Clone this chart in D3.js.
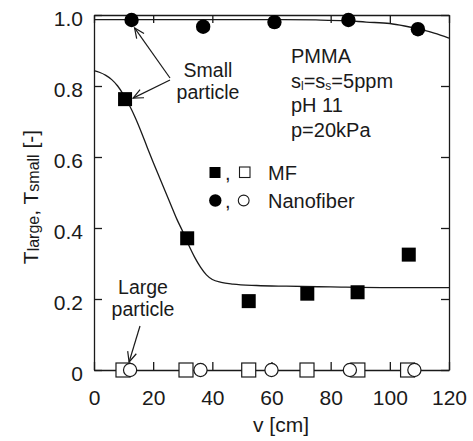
<!DOCTYPE html>
<html>
<head>
<meta charset="utf-8">
<script src="https://cdn.jsdelivr.net/npm/d3@7/dist/d3.min.js"></script>
<style>
  html, body { margin: 0; padding: 0; background: #fff; }
  svg { display: block; font-family: "Liberation Sans", Arial, sans-serif; }
</style>
</head>
<body>
<svg id="chart" width="473" height="441"></svg>
<script>
// Tick values and labels
const xTicks = [0, 20, 40, 60, 80, 100, 120];
const xTickLabels = ["0", "20", "40", "60", "80", "100", "120"];
const yTicks = [0, 0.2, 0.4, 0.6, 0.8, 1.0];
const yTickLabels = ["0", "0.2", "0.4", "0.6", "0.8", "1.0"];

// MF: small-particle (filled) and large-particle (open) transmission
const mfSmallV = [10.5, 31.5, 52.3, 72.1, 89.1, 106.4];
const mfSmallT = [0.763, 0.371, 0.194, 0.215, 0.219, 0.325];
const mfLargeV = [9.8, 31.1, 52.3, 72.0, 89.2, 106.0];
const mfLargeT = [0, 0, 0, 0, 0, 0];

// Nanofiber: small-particle (filled) and large-particle (open) transmission
const nfSmallV = [12.7, 36.9, 61.0, 86.0, 109.5];
const nfSmallT = [0.986, 0.967, 0.980, 0.986, 0.960];
const nfLargeV = [12.2, 36.0, 60.0, 86.5, 108.3];
const nfLargeT = [0, 0, 0, 0, 0];

// Fitted trend curves
const mfCurveV = [0, 2, 4, 6, 8, 10, 12, 14, 16, 18, 20, 22, 24, 26, 28, 30, 32, 34, 36, 38, 40, 43, 47, 55, 65, 80, 100, 120];
const mfCurveT = [0.843, 0.838, 0.830, 0.818, 0.800, 0.775, 0.745, 0.710, 0.670, 0.627, 0.585, 0.545, 0.505, 0.465, 0.425, 0.390, 0.352, 0.318, 0.290, 0.268, 0.255, 0.247, 0.242, 0.238, 0.236, 0.234, 0.232, 0.232];
const nfCurveV = [0, 20, 40, 60, 75, 85, 92, 100, 105, 110, 115, 120];
const nfCurveT = [0.987, 0.987, 0.987, 0.987, 0.986, 0.984, 0.980, 0.976, 0.969, 0.960, 0.949, 0.935];

const svg = d3.select("#chart");
const L = 94, R = 449, T = 15, B = 370;
const x = d3.scaleLinear().domain([0, 120]).range([L, R]);
const y = d3.scaleLinear().domain([0, 1.0]).range([B, T]);
const ink = "#1a1a1a";

// Arrow marker (open V head)
svg.append("defs").append("marker")
  .attr("id", "arrow").attr("viewBox", "0 0 12 12")
  .attr("refX", 11).attr("refY", 6)
  .attr("markerWidth", 12).attr("markerHeight", 12)
  .attr("markerUnits", "userSpaceOnUse")
  .attr("orient", "auto")
  .append("path").attr("d", "M1,1.5 L11,6 L1,10.5")
  .attr("fill", "none").attr("stroke", ink).attr("stroke-width", 1.2);

// Axes with inward ticks on all four sides
const tickLen = 8;
const gx = svg.append("g").attr("transform", `translate(0,${B})`)
  .call(d3.axisBottom(x).tickValues(xTicks).tickSizeInner(-tickLen).tickSizeOuter(0)
    .tickFormat((d, i) => xTickLabels[i]));
gx.selectAll("text").attr("dy", null).attr("y", 35).attr("font-size", 21).attr("fill", ink);
const gxt = svg.append("g").attr("transform", `translate(0,${T})`)
  .call(d3.axisTop(x).tickValues(xTicks).tickSizeInner(-tickLen).tickSizeOuter(0).tickFormat(""));
const gy = svg.append("g").attr("transform", `translate(${L},0)`)
  .call(d3.axisLeft(y).tickValues(yTicks).tickSizeInner(-tickLen).tickSizeOuter(0)
    .tickFormat((d, i) => yTickLabels[i]));
gy.selectAll("text").attr("x", -11).attr("dy", "0.5em").attr("font-size", 21).attr("fill", ink);
const gyr = svg.append("g").attr("transform", `translate(${R},0)`)
  .call(d3.axisRight(y).tickValues(yTicks).tickSizeInner(-tickLen).tickSizeOuter(0).tickFormat(""));
[gx, gxt, gy, gyr].forEach(g => {
  g.select(".domain").attr("stroke", ink).attr("stroke-width", 1.3);
  g.selectAll(".tick line").attr("stroke", ink).attr("stroke-width", 1.3);
  g.attr("font-family", null);
});

// Trend curves
const line = d3.line().x(d => x(d[0])).y(d => y(d[1])).curve(d3.curveMonotoneX);
svg.append("path").datum(mfCurveV.map((v, i) => [v, mfCurveT[i]]))
  .attr("d", line).attr("fill", "none").attr("stroke", ink).attr("stroke-width", 1.3);
svg.append("path").datum(nfCurveV.map((v, i) => [v, nfCurveT[i]]))
  .attr("d", line).attr("fill", "none").attr("stroke", ink).attr("stroke-width", 1.3);

// Markers
const sq = 14;
svg.append("g").selectAll("rect").data(mfLargeV.map((v, i) => [v, mfLargeT[i]])).join("rect")
  .attr("x", d => x(d[0]) - sq / 2).attr("y", d => y(d[1]) - sq / 2)
  .attr("width", sq).attr("height", sq)
  .attr("fill", "#fff").attr("stroke", ink).attr("stroke-width", 1.2);
svg.append("g").selectAll("circle").data(nfLargeV.map((v, i) => [v, nfLargeT[i]])).join("circle")
  .attr("cx", d => x(d[0])).attr("cy", d => y(d[1])).attr("r", 6.6)
  .attr("fill", "#fff").attr("stroke", ink).attr("stroke-width", 1.2);
svg.append("g").selectAll("rect").data(mfSmallV.map((v, i) => [v, mfSmallT[i]])).join("rect")
  .attr("x", d => x(d[0]) - sq / 2).attr("y", d => y(d[1]) - sq / 2)
  .attr("width", sq).attr("height", sq).attr("fill", "#000");
svg.append("g").selectAll("circle").data(nfSmallV.map((v, i) => [v, nfSmallT[i]])).join("circle")
  .attr("cx", d => x(d[0])).attr("cy", d => y(d[1])).attr("r", 7.2).attr("fill", "#000");

// Annotations
const txt = (xx, yy, s, size, anchor) => svg.append("text")
  .attr("x", xx).attr("y", yy).attr("font-size", size).attr("fill", ink)
  .attr("text-anchor", anchor || "start").text(s);

txt(208, 77, "Small", 19.5, "middle");
txt(208, 99, "particle", 19.5, "middle");
svg.append("line").attr("x1", 170).attr("y1", 78).attr("x2", x(nfSmallV[0]) + 3).attr("y2", y(nfSmallT[0]) + 8)
  .attr("stroke", ink).attr("stroke-width", 1.2).attr("marker-end", "url(#arrow)");
svg.append("line").attr("x1", 170).attr("y1", 80).attr("x2", x(mfSmallV[0]) + 8).attr("y2", y(mfSmallT[0]) - 1)
  .attr("stroke", ink).attr("stroke-width", 1.2).attr("marker-end", "url(#arrow)");

txt(143, 294, "Large", 19.5, "middle");
txt(143, 316, "particle", 19.5, "middle");
svg.append("line").attr("x1", 140).attr("y1", 326).attr("x2", x(nfLargeV[0]) - 1).attr("y2", y(0) - 8)
  .attr("stroke", ink).attr("stroke-width", 1.2).attr("marker-end", "url(#arrow)");

// Conditions block
txt(291, 63, "PMMA", 20);
const cond = svg.append("text").attr("x", 291).attr("y", 88).attr("font-size", 20).attr("fill", ink);
cond.append("tspan").text("s");
cond.append("tspan").attr("font-size", 12).attr("dy", 2).text("l");
cond.append("tspan").attr("dy", -2).text("=s");
cond.append("tspan").attr("font-size", 12).attr("dy", 2).text("s");
cond.append("tspan").attr("dy", -2).text("=5ppm");
txt(291, 112, "pH 11", 20);
txt(291, 137, "p=20kPa", 20);

// Legend
const lg = svg.append("g");
lg.append("rect").attr("x", 209.5).attr("y", 167).attr("width", 11).attr("height", 11).attr("fill", "#000");
txt(225, 180, ",", 20);
lg.append("rect").attr("x", 239.5).attr("y", 167).attr("width", 10.5).attr("height", 10.5)
  .attr("fill", "#fff").attr("stroke", ink).attr("stroke-width", 1.1);
txt(268, 180, "MF", 20);
lg.append("circle").attr("cx", 215.3).attr("cy", 200.5).attr("r", 6.2).attr("fill", "#000");
txt(225, 208, ",", 20);
lg.append("circle").attr("cx", 243.7).attr("cy", 200.5).attr("r", 5.4)
  .attr("fill", "#fff").attr("stroke", ink).attr("stroke-width", 1.1);
txt(268, 208, "Nanofiber", 20);

// Axis titles
txt(281, 432, "v [cm]", 21, "middle");
const yt = svg.append("text").attr("transform", "translate(38,197) rotate(-90)")
  .attr("text-anchor", "middle").attr("font-size", 21).attr("fill", ink);
yt.append("tspan").text("T");
yt.append("tspan").attr("font-size", 16).attr("dy", 1).text("large");
yt.append("tspan").attr("dy", -1).text(", T");
yt.append("tspan").attr("font-size", 16).attr("dy", 1).text("small");
yt.append("tspan").attr("dy", -1).text(" [-]");
</script>
</body>
</html>
